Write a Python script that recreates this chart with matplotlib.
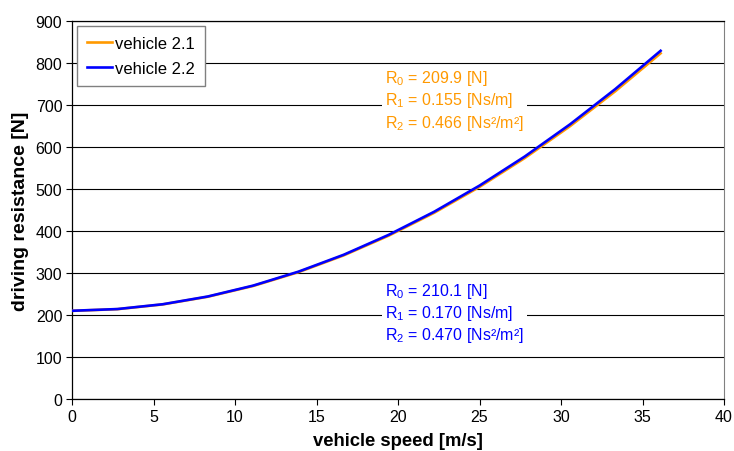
import matplotlib
matplotlib.use("Agg")
from matplotlib import pyplot as plt

plt.rcParams['font.family'] = ['Liberation Sans', 'DejaVu Sans']
plt.rcParams['mathtext.default'] = 'regular'

# speed steps of 10 km/h, expressed in m/s
speed = [0, 2.78, 5.56, 8.33, 11.11, 13.89, 16.67, 19.44, 22.22, 25.0, 27.78, 30.56, 33.33, 36.11]
resistance_21 = [209.9, 213.9, 225.2, 243.5, 269.1, 302.0, 342.0, 389.1, 443.4, 505.0, 573.8, 649.8, 732.8, 823.1]
resistance_22 = [210.1, 214.2, 225.6, 244.1, 270.0, 303.2, 343.5, 391.1, 445.9, 508.1, 577.5, 654.2, 738.0, 829.1]

coeffs_21 = ["209.9", "0.155", "0.466"]
coeffs_22 = ["210.1", "0.170", "0.470"]

orange = '#FF9900'
blue = '#0000FF'


def coeff_text(c):
    return ("R$_0$ = %s [N]\nR$_1$ = %s [Ns/m]\nR$_2$ = %s [Ns²/m²]" % (c[0], c[1], c[2]))


fig = plt.figure(figsize=(7.34, 4.52), dpi=100)
ax = fig.add_axes([0.0981, 0.115, 0.8883, 0.8363])

ax.plot(speed, resistance_21, color=orange, lw=1.9, label='vehicle 2.1', zorder=3)
ax.plot(speed, resistance_22, color=blue, lw=1.9, label='vehicle 2.2', zorder=4)

ax.set_xlim(0, 40)
ax.set_ylim(0, 900)
ax.set_xticks(range(0, 41, 5))
ax.set_yticks(range(0, 901, 100))
ax.tick_params(direction='out', length=4, width=0.8, labelsize=11.5, colors='black', pad=3)
ax.grid(axis='y', color='black', lw=0.8)
ax.set_axisbelow(True)
for side in ['left', 'bottom', 'top']:
    ax.spines[side].set_color('black')
    ax.spines[side].set_linewidth(0.9)
ax.spines['right'].set_color('#808080')

ax.set_xlabel('vehicle speed [m/s]', fontsize=13.3, fontweight='bold', labelpad=6)
ax.set_ylabel('driving resistance [N]', fontsize=14, fontweight='bold', labelpad=5)

bbox = dict(facecolor='white', edgecolor='none', pad=2)
ax.text(19.2, 712, coeff_text(coeffs_21), color=orange, fontsize=11.5,
        va='center', ha='left', linespacing=1.22, bbox=bbox, zorder=2)
ax.text(19.2, 205, coeff_text(coeffs_22), color=blue, fontsize=11.5,
        va='center', ha='left', linespacing=1.22, bbox=bbox, zorder=2)

leg = ax.legend(loc='upper left', fontsize=12, fancybox=False, framealpha=1,
                edgecolor='#808080', handlelength=1.5, handletextpad=0.2,
                borderaxespad=0.3, labelspacing=0.6, borderpad=0.6)
leg.get_frame().set_linewidth(1.0)

fig.savefig('out.png', dpi=100)
